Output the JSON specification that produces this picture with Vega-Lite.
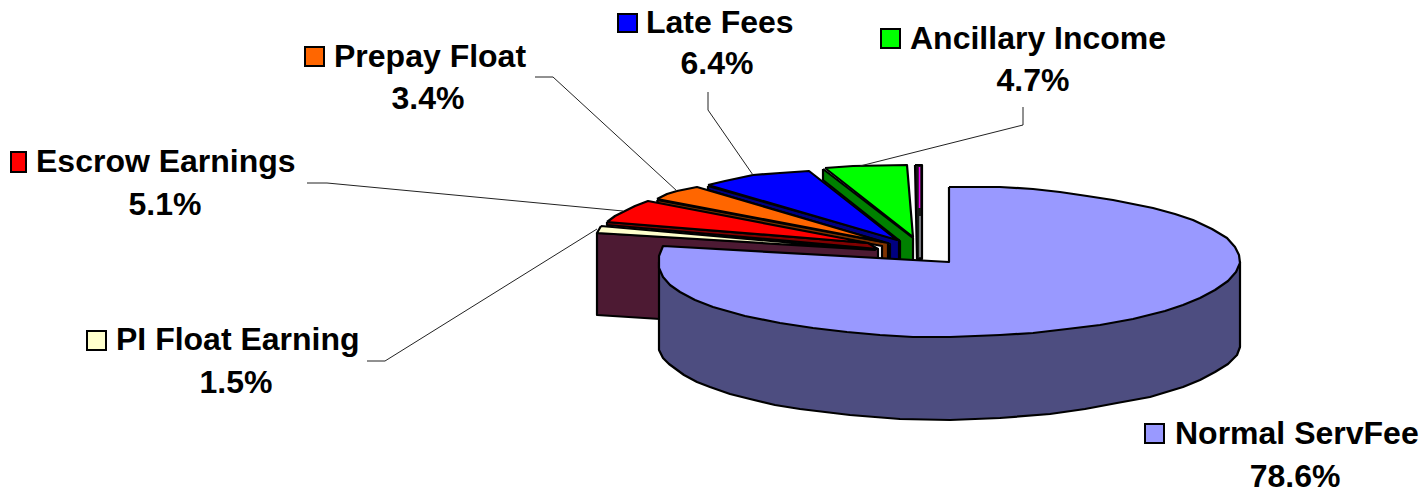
{"$schema":"https://vega.github.io/schema/vega-lite/v6.json","width":1422,"height":490,"padding":0,"autosize":{"type":"none"},"background":"white","view":{"stroke":null},
"datasets":{
"slices":[
{"slice":"Normal ServFee","share":0.786,"kx":1145,"kx2":1164,"ky":424,"ky2":443,"nameX":1175,"nameY":444,"pctX":1295,"pctY":487},
{"slice":"PI Float Earning","share":0.015,"kx":87,"kx2":106,"ky":331,"ky2":350,"nameX":116,"nameY":350,"pctX":236,"pctY":393},
{"slice":"Escrow Earnings","share":0.051,"kx":11,"kx2":26,"ky":152,"ky2":172,"nameX":36,"nameY":172,"pctX":165,"pctY":215},
{"slice":"Prepay Float","share":0.034,"kx":305,"kx2":324,"ky":47,"ky2":66,"nameX":334,"nameY":67,"pctX":428,"pctY":109},
{"slice":"Late Fees","share":0.064,"kx":618,"kx2":637,"ky":14,"ky2":32,"nameX":646,"nameY":33,"pctX":717,"pctY":74},
{"slice":"Ancillary Income","share":0.047,"kx":881,"kx2":900,"ky":29,"ky2":48,"nameX":910,"nameY":49,"pctX":1033,"pctY":91}
],
"leaders":[
{"line":"Prepay","i":0,"x":535,"y":77},{"line":"Prepay","i":1,"x":553,"y":77},{"line":"Prepay","i":2,"x":677,"y":191},
{"line":"Escrow","i":0,"x":307,"y":183},{"line":"Escrow","i":1,"x":327,"y":183},{"line":"Escrow","i":2,"x":623,"y":211},
{"line":"Late","i":0,"x":708,"y":92},{"line":"Late","i":1,"x":708,"y":110},{"line":"Late","i":2,"x":753,"y":175},
{"line":"Ancillary","i":0,"x":1023,"y":107},{"line":"Ancillary","i":1,"x":1023,"y":125},{"line":"Ancillary","i":2,"x":860,"y":166},
{"line":"PI","i":0,"x":367,"y":361},{"line":"PI","i":1,"x":385,"y":361},{"line":"PI","i":2,"x":597,"y":229}
],
"sliverLines":[
{"band":"top","i":0,"x":919.5,"y":167},{"band":"top","i":1,"x":919.5,"y":208},
{"band":"side","i":0,"x":920,"y":216},{"band":"side","i":1,"x":920,"y":257}
],
"outlines":[
{"part":"Small wall","i":0,"x":597,"y":233},{"part":"Small wall","i":1,"x":597,"y":315},{"part":"Small wall","i":2,"x":660,"y":319},{"part":"Small wall","i":3,"x":878,"y":319},{"part":"Small wall","i":4,"x":878,"y":249},{"part":"Small wall","i":5,"x":597,"y":233},
{"part":"Other sliver","i":0,"x":915,"y":165},{"part":"Other sliver","i":1,"x":922,"y":165},{"part":"Other sliver","i":2,"x":922,"y":259},{"part":"Other sliver","i":3,"x":917,"y":259},{"part":"Other sliver","i":4,"x":915,"y":165},
{"part":"Ancillary side","i":0,"x":823,"y":169},{"part":"Ancillary side","i":1,"x":823,"y":180},{"part":"Ancillary side","i":2,"x":900,"y":241},{"part":"Ancillary side","i":3,"x":900,"y":262},{"part":"Ancillary side","i":4,"x":913,"y":262},{"part":"Ancillary side","i":5,"x":913,"y":238},{"part":"Ancillary side","i":6,"x":823,"y":169},
{"part":"Ancillary Income","i":0,"x":825,"y":168},{"part":"Ancillary Income","i":1,"x":853,"y":166},{"part":"Ancillary Income","i":2,"x":907,"y":165},{"part":"Ancillary Income","i":3,"x":913,"y":237},{"part":"Ancillary Income","i":4,"x":825,"y":168},
{"part":"Late side","i":0,"x":708,"y":186},{"part":"Late side","i":1,"x":708,"y":190},{"part":"Late side","i":2,"x":890,"y":244},{"part":"Late side","i":3,"x":890,"y":262},{"part":"Late side","i":4,"x":899,"y":262},{"part":"Late side","i":5,"x":899,"y":240},{"part":"Late side","i":6,"x":708,"y":186},
{"part":"Late Fees","i":0,"x":708,"y":185},{"part":"Late Fees","i":1,"x":725,"y":181},{"part":"Late Fees","i":2,"x":753,"y":175},{"part":"Late Fees","i":3,"x":780,"y":173},{"part":"Late Fees","i":4,"x":809,"y":171},{"part":"Late Fees","i":5,"x":897,"y":240},{"part":"Late Fees","i":6,"x":708,"y":185},
{"part":"Prepay side","i":0,"x":657,"y":200},{"part":"Prepay side","i":1,"x":658,"y":204},{"part":"Prepay side","i":2,"x":882,"y":246},{"part":"Prepay side","i":3,"x":882,"y":262},{"part":"Prepay side","i":4,"x":888,"y":262},{"part":"Prepay side","i":5,"x":888,"y":243},{"part":"Prepay side","i":6,"x":657,"y":200},
{"part":"Prepay Float","i":0,"x":657,"y":199},{"part":"Prepay Float","i":1,"x":667,"y":194},{"part":"Prepay Float","i":2,"x":677,"y":191},{"part":"Prepay Float","i":3,"x":697,"y":187},{"part":"Prepay Float","i":4,"x":884,"y":242},{"part":"Prepay Float","i":5,"x":657,"y":199},
{"part":"Escrow side","i":0,"x":607,"y":222},{"part":"Escrow side","i":1,"x":607,"y":225},{"part":"Escrow side","i":2,"x":878,"y":249},{"part":"Escrow side","i":3,"x":868,"y":243},{"part":"Escrow side","i":4,"x":607,"y":222},
{"part":"Escrow Earnings","i":0,"x":607,"y":222},{"part":"Escrow Earnings","i":1,"x":615,"y":216},{"part":"Escrow Earnings","i":2,"x":623,"y":212},{"part":"Escrow Earnings","i":3,"x":635,"y":206},{"part":"Escrow Earnings","i":4,"x":648,"y":201},{"part":"Escrow Earnings","i":5,"x":868,"y":243},{"part":"Escrow Earnings","i":6,"x":607,"y":222},
{"part":"PI Float Earning","i":0,"x":601,"y":226},{"part":"PI Float Earning","i":1,"x":597,"y":233},{"part":"PI Float Earning","i":2,"x":875,"y":250},{"part":"PI Float Earning","i":3,"x":601,"y":226},
{"part":"Normal side","i":0,"x":659,"y":262},{"part":"Normal side","i":1,"x":659,"y":350},{"part":"Normal side","i":2,"x":663,"y":358},{"part":"Normal side","i":3,"x":669,"y":364},{"part":"Normal side","i":4,"x":684,"y":375},{"part":"Normal side","i":5,"x":697,"y":382},{"part":"Normal side","i":6,"x":710,"y":387},{"part":"Normal side","i":7,"x":730,"y":394},{"part":"Normal side","i":8,"x":750,"y":399},{"part":"Normal side","i":9,"x":775,"y":405},{"part":"Normal side","i":10,"x":800,"y":409},{"part":"Normal side","i":11,"x":825,"y":412},{"part":"Normal side","i":12,"x":850,"y":415},{"part":"Normal side","i":13,"x":875,"y":417},{"part":"Normal side","i":14,"x":900,"y":419},{"part":"Normal side","i":15,"x":950,"y":420},{"part":"Normal side","i":16,"x":1000,"y":418},{"part":"Normal side","i":17,"x":1050,"y":414},{"part":"Normal side","i":18,"x":1085,"y":409},{"part":"Normal side","i":19,"x":1117,"y":403},{"part":"Normal side","i":20,"x":1150,"y":397},{"part":"Normal side","i":21,"x":1183,"y":387},{"part":"Normal side","i":22,"x":1200,"y":380},{"part":"Normal side","i":23,"x":1215,"y":372},{"part":"Normal side","i":24,"x":1228,"y":364},{"part":"Normal side","i":25,"x":1237,"y":355},{"part":"Normal side","i":26,"x":1240,"y":347},{"part":"Normal side","i":27,"x":1240,"y":262},{"part":"Normal side","i":28,"x":659,"y":262},
{"part":"Normal ServFee","i":0,"x":949,"y":187},{"part":"Normal ServFee","i":1,"x":1000,"y":187},{"part":"Normal ServFee","i":2,"x":1033,"y":189},{"part":"Normal ServFee","i":3,"x":1060,"y":192},{"part":"Normal ServFee","i":4,"x":1087,"y":196},{"part":"Normal ServFee","i":5,"x":1113,"y":200},{"part":"Normal ServFee","i":6,"x":1133,"y":204},{"part":"Normal ServFee","i":7,"x":1153,"y":208},{"part":"Normal ServFee","i":8,"x":1175,"y":214},{"part":"Normal ServFee","i":9,"x":1193,"y":220},{"part":"Normal ServFee","i":10,"x":1212,"y":229},{"part":"Normal ServFee","i":11,"x":1227,"y":238},{"part":"Normal ServFee","i":12,"x":1235,"y":247},{"part":"Normal ServFee","i":13,"x":1239,"y":255},{"part":"Normal ServFee","i":14,"x":1240,"y":263},{"part":"Normal ServFee","i":15,"x":1236,"y":272},{"part":"Normal ServFee","i":16,"x":1228,"y":281},{"part":"Normal ServFee","i":17,"x":1215,"y":290},{"part":"Normal ServFee","i":18,"x":1200,"y":298},{"part":"Normal ServFee","i":19,"x":1183,"y":305},{"part":"Normal ServFee","i":20,"x":1165,"y":311},{"part":"Normal ServFee","i":21,"x":1133,"y":319},{"part":"Normal ServFee","i":22,"x":1100,"y":325},{"part":"Normal ServFee","i":23,"x":1067,"y":329},{"part":"Normal ServFee","i":24,"x":1033,"y":333},{"part":"Normal ServFee","i":25,"x":1000,"y":335},{"part":"Normal ServFee","i":26,"x":950,"y":337},{"part":"Normal ServFee","i":27,"x":913,"y":337},{"part":"Normal ServFee","i":28,"x":880,"y":335},{"part":"Normal ServFee","i":29,"x":847,"y":332},{"part":"Normal ServFee","i":30,"x":813,"y":328},{"part":"Normal ServFee","i":31,"x":780,"y":323},{"part":"Normal ServFee","i":32,"x":745,"y":316},{"part":"Normal ServFee","i":33,"x":713,"y":307},{"part":"Normal ServFee","i":34,"x":695,"y":300},{"part":"Normal ServFee","i":35,"x":680,"y":292},{"part":"Normal ServFee","i":36,"x":670,"y":285},{"part":"Normal ServFee","i":37,"x":663,"y":277},{"part":"Normal ServFee","i":38,"x":659,"y":268},{"part":"Normal ServFee","i":39,"x":659,"y":256},{"part":"Normal ServFee","i":40,"x":663,"y":246},{"part":"Normal ServFee","i":41,"x":949,"y":262},{"part":"Normal ServFee","i":42,"x":949,"y":187}
]},
"layer":[
{"data":{"name":"outlines"},"mark":{"type":"line","filled":true,"stroke":"#000000","strokeWidth":2.2,"strokeJoin":"round","fillOpacity":1},
"encoding":{"x":{"field":"x","type":"quantitative","scale":{"domain":[0,1422],"nice":false,"zero":false},"axis":null},"y":{"field":"y","type":"quantitative","scale":{"domain":[490,0],"nice":false,"zero":false},"axis":null},"order":{"field":"i","type":"quantitative"},"detail":{"field":"part"},
"fill":{"field":"part","type":"nominal","legend":null,"scale":{"domain":["Normal ServFee","Normal side","PI Float Earning","Small wall","Escrow Earnings","Escrow side","Prepay Float","Prepay side","Late Fees","Late side","Ancillary Income","Ancillary side","Other sliver"],"range":["#9999FF","#4D4D80","#FFFFCC","#4D1A33","#FF0000","#800000","#FF6600","#803300","#0000FF","#000080","#00FF00","#008000","#1A1A1A"]}}}},
{"data":{"name":"sliverLines"},"mark":{"type":"line","strokeWidth":1.5},
"encoding":{"x":{"field":"x","type":"quantitative"},"y":{"field":"y","type":"quantitative"},"order":{"field":"i","type":"quantitative"},"stroke":{"field":"band","type":"nominal","legend":null,"scale":{"domain":["top","side"],"range":["#FF00FF","#9A9AA5"]}}}},
{"data":{"name":"leaders"},"mark":{"type":"line","stroke":"#222222","strokeWidth":1},
"encoding":{"x":{"field":"x","type":"quantitative"},"y":{"field":"y","type":"quantitative"},"order":{"field":"i","type":"quantitative"},"detail":{"field":"line"}}},
{"data":{"name":"slices"},"mark":{"type":"rect","stroke":"#000000","strokeWidth":2},
"encoding":{"x":{"field":"kx","type":"quantitative"},"x2":{"field":"kx2"},"y":{"field":"ky","type":"quantitative"},"y2":{"field":"ky2"},"fill":{"field":"slice","type":"nominal","legend":null}}},
{"data":{"name":"slices"},"mark":{"type":"text","align":"left","baseline":"alphabetic","font":"Liberation Sans","fontWeight":"bold","fontSize":32,"fill":"#000000"},
"encoding":{"x":{"field":"nameX","type":"quantitative"},"y":{"field":"nameY","type":"quantitative"},"text":{"field":"slice"}}},
{"data":{"name":"slices"},"mark":{"type":"text","align":"center","baseline":"alphabetic","font":"Liberation Sans","fontWeight":"bold","fontSize":32,"fill":"#000000"},
"encoding":{"x":{"field":"pctX","type":"quantitative"},"y":{"field":"pctY","type":"quantitative"},"text":{"field":"share","type":"quantitative","format":".1%"}}}
]}
